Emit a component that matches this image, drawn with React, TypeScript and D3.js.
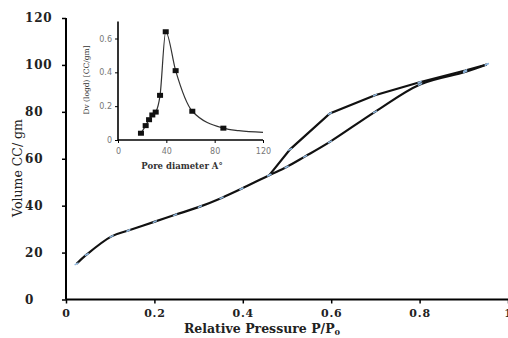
import React, { useEffect, useRef } from 'react';
import * as d3 from 'd3';

// adsorption branch (relative pressure, volume)
const adsP = [0.024, 0.047, 0.103, 0.141, 0.201, 0.247, 0.303, 0.352, 0.397, 0.46, 0.499, 0.541, 0.597, 0.699, 0.801, 0.903, 0.952];
const adsV = [15.2, 19.2, 26.9, 29.4, 33.2, 36.1, 39.6, 43.3, 47.2, 53, 56.5, 61, 67.2, 80, 91.7, 97, 100.2];
// desorption branch
const desP = [0.952, 0.903, 0.8, 0.699, 0.597, 0.507, 0.46];
const desV = [100.2, 97.6, 92.6, 87.1, 79.3, 64, 53];

// inset: pore size distribution
const poreD = [19, 22.9, 25.7, 28.4, 31.2, 34.8, 39.5, 47.7, 61.5, 87.2];
const poreV = [0.04, 0.085, 0.12, 0.148, 0.165, 0.264, 0.64, 0.41, 0.17, 0.07];
const tailD = [100, 120];
const tailV = [0.055, 0.045];

const xTicks = [0, 0.2, 0.4, 0.6, 0.8, 1];
const yTicks = [0, 20, 40, 60, 80, 100, 120];
const insetXTicks = [0, 40, 80, 120];
const insetYTicks = [0, 0.2, 0.4, 0.6];

const App = () => {
  const svgRef = useRef<SVGSVGElement>(null);

  useEffect(() => {
    const svg = d3.select(svgRef.current);
    svg.selectAll('*').remove();

    const x = d3.scaleLinear().domain([0, 1]).range([66, 508]);
    const y = d3.scaleLinear().domain([0, 120]).range([299.5, 18]);
    const serif = 'DejaVu Serif, serif';

    // main axes
    const gx = svg.append('g').attr('transform', 'translate(0,299.5)')
      .call(d3.axisBottom(x).tickValues(xTicks).tickSize(4).tickFormat(d => d3.format('')(d as number)));
    gx.select('.domain').attr('stroke-width', 2).attr('d', 'M66,0H508');
    gx.selectAll('.tick line').attr('stroke-width', 1.5);
    gx.selectAll('.tick text').attr('font-family', serif).attr('font-weight', 'bold')
      .attr('font-size', 11).attr('letter-spacing', 0.8).attr('y', 10).attr('fill', '#222');

    const gy = svg.append('g').attr('transform', 'translate(66,0)')
      .call(d3.axisLeft(y).tickValues(yTicks).tickSize(4));
    gy.select('.domain').attr('stroke-width', 2).attr('d', 'M0,18V299.5');
    gy.selectAll('.tick line').attr('stroke-width', 1.5);
    gy.selectAll('.tick text').attr('font-family', serif).attr('font-weight', 'bold')
      .attr('font-size', 12).attr('letter-spacing', 0.8).attr('text-anchor', 'start')
      .attr('x', -41).attr('fill', '#222');

    // axis titles
    const xt = svg.append('text').attr('x', 262).attr('y', 333).attr('text-anchor', 'middle')
      .attr('font-family', serif).attr('font-weight', 'bold').attr('font-size', 12.5).attr('fill', '#222');
    xt.append('tspan').text('Relative Pressure P/P');
    xt.append('tspan').attr('font-size', 8).attr('dy', 2).text('0');

    svg.append('text').attr('transform', 'translate(22,168) rotate(-90)').attr('text-anchor', 'middle')
      .attr('font-family', serif).attr('font-size', 12.5).attr('fill', '#222').text('Volume CC/ gm');

    // isotherm lines
    const line = d3.line<[number, number]>().x(d => x(d[0])).y(d => y(d[1]));
    const ads = adsP.map((p, i) => [p, adsV[i]] as [number, number]);
    const des = desP.map((p, i) => [p, desV[i]] as [number, number]);
    svg.append('path').datum(ads).attr('d', line.curve(d3.curveCatmullRom))
      .attr('fill', 'none').attr('stroke', '#111').attr('stroke-width', 2.2);
    svg.append('path').datum(des).attr('d', line.curve(d3.curveLinear))
      .attr('fill', 'none').attr('stroke', '#111').attr('stroke-width', 2.2);

    svg.append('g').selectAll('line').data([...ads, ...des]).join('line')
      .attr('x1', d => x(d[0]) - 2).attr('x2', d => x(d[0]) + 2)
      .attr('y1', d => y(d[1]) + 1).attr('y2', d => y(d[1]) - 1)
      .attr('stroke', '#8fb8e0').attr('stroke-width', 1.5);

    // inset
    const ix = d3.scaleLinear().domain([0, 120]).range([118, 263]);
    const iy = d3.scaleLinear().domain([0, 0.7]).range([140, 21.6]);

    const igx = svg.append('g').attr('transform', 'translate(0,140)')
      .call(d3.axisBottom(ix).tickValues(insetXTicks).tickSize(3));
    igx.select('.domain').attr('stroke-width', 1.6).attr('d', 'M118,0H263');
    igx.selectAll('.tick text').attr('font-family', 'DejaVu Sans, sans-serif').attr('font-size', 8)
      .attr('fill', '#777').attr('y', 8);

    const igy = svg.append('g').attr('transform', 'translate(118,0)')
      .call(d3.axisLeft(iy).tickValues(insetYTicks).tickSize(3).tickFormat(d => d3.format('')(d as number)));
    igy.select('.domain').attr('stroke-width', 1.6).attr('d', 'M0,21.6V140');
    igy.selectAll('.tick text').attr('font-family', 'DejaVu Sans, sans-serif').attr('font-size', 8)
      .attr('fill', '#777').attr('x', -6);

    svg.append('text').attr('x', 182).attr('y', 169).attr('text-anchor', 'middle')
      .attr('font-family', serif).attr('font-weight', 'bold').attr('font-size', 8.5).attr('fill', '#333')
      .text('Pore diameter A°');
    svg.append('text').attr('transform', 'translate(89,80) rotate(-90)').attr('text-anchor', 'middle')
      .attr('font-family', serif).attr('font-size', 7.5).attr('fill', '#333')
      .text('Dv (logd) [CC/gm]');

    const pore = poreD.map((d, i) => [d, poreV[i]] as [number, number]);
    const tail = tailD.map((d, i) => [d, tailV[i]] as [number, number]);
    const pline = d3.line<[number, number]>().x(d => ix(d[0])).y(d => iy(d[1])).curve(d3.curveMonotoneX);
    svg.append('path').datum([...pore, ...tail]).attr('d', pline)
      .attr('fill', 'none').attr('stroke', '#333').attr('stroke-width', 1.2);
    svg.append('g').selectAll('rect').data(pore).join('rect')
      .attr('x', d => ix(d[0]) - 3).attr('y', d => iy(d[1]) - 2.5)
      .attr('width', 6).attr('height', 5).attr('fill', '#111');
  }, []);

  return (
    <svg ref={svgRef} width={508} height={338}
      style={{ position: 'absolute', left: 0, top: 0, background: '#fff' }} />
  );
};

export default App;
